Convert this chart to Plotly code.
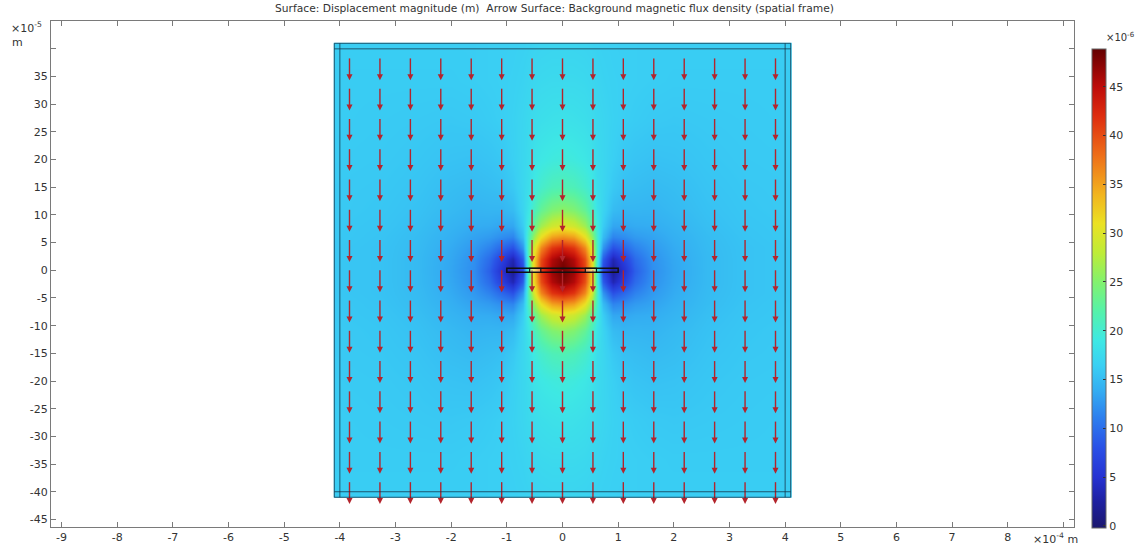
import numpy as np
import plotly.graph_objects as go

# ---------------- data ----------------
# Displacement magnitude field, one quadrant (x >= 0, y >= 0); mirrored to full domain.
# x in 1e-4 m, y in 1e-5 m, values in 1e-6 m
x_nodes = [0, 0.2, 0.4, 0.52, 0.62, 0.72, 0.9, 1.1, 1.3, 1.6, 2.0, 2.6, 3.3, 4.08, 4.1]
y_nodes = [0, 2, 4, 6, 8, 11, 15, 20, 27, 34, 40.8, 41]
disp_quarter = [
    [48.5, 46.5, 41.0, 32.0, 20.0, 7.0, 2.0, 5.0, 9.0, 12.0, 13.5, 14.8, 15.5, 15.8, 15.8],
    [47.5, 45.5, 40.0, 31.5, 20.5, 9.0, 3.5, 6.5, 9.8, 12.2, 13.6, 14.8, 15.5, 15.8, 15.8],
    [43.0, 41.5, 36.5, 29.5, 21.0, 12.5, 8.0, 9.5, 11.3, 12.7, 13.8, 14.9, 15.5, 15.8, 15.8],
    [36.0, 35.0, 31.0, 26.0, 20.5, 15.0, 11.5, 12.0, 12.8, 13.3, 14.1, 15.0, 15.6, 15.9, 15.9],
    [30.0, 29.0, 26.5, 23.0, 19.5, 16.3, 13.5, 13.5, 13.8, 13.9, 14.4, 15.2, 15.7, 15.9, 15.9],
    [25.5, 24.8, 23.0, 20.8, 18.5, 17.0, 15.0, 14.5, 14.5, 14.4, 14.8, 15.4, 15.8, 16.0, 16.0],
    [21.5, 21.2, 20.2, 19.2, 17.9, 17.2, 16.0, 15.3, 15.1, 14.9, 15.1, 15.6, 15.9, 16.0, 16.0],
    [19.5, 19.3, 18.9, 18.4, 17.6, 17.2, 16.5, 15.9, 15.6, 15.4, 15.5, 15.8, 16.0, 16.1, 16.1],
    [18.3, 18.2, 18.0, 17.7, 17.4, 17.1, 16.7, 16.4, 16.2, 16.0, 15.9, 16.0, 16.1, 16.2, 16.2],
    [17.5, 17.5, 17.4, 17.2, 17.0, 16.8, 16.6, 16.5, 16.4, 16.3, 16.2, 16.2, 16.2, 16.2, 16.2],
    [17.0, 17.0, 16.9, 16.8, 16.7, 16.6, 16.5, 16.4, 16.4, 16.3, 16.3, 16.3, 16.3, 16.3, 16.3],
    [17.0, 17.0, 16.9, 16.8, 16.7, 16.6, 16.5, 16.4, 16.4, 16.3, 16.3, 16.3, 16.3, 16.3, 16.3],
]

# Arrow surface sample points (x in 1e-4 m, y in 1e-5 m) and arrow length (1e-5 m)
arrow_x = [-3.827, -3.280, -2.733, -2.187, -1.640, -1.093, -0.547, 0.0,
           0.547, 1.093, 1.640, 2.187, 2.733, 3.280, 3.827]
arrow_y = [38.27, 32.80, 27.33, 21.87, 16.40, 10.93, 5.47, 0.0,
           -5.47, -10.93, -16.40, -21.87, -27.33, -32.80, -38.27]
arrow_len = 3.95

# Geometry
outer_x, inner_x = 4.1, 4.0      # 1e-4 m
outer_y, inner_y = 41.0, 40.0    # 1e-5 m
plate_x = [-1.0, 1.0]
plate_y = [-0.35, 0.35]
electrode_x = [[-0.59, -0.39], [0.41, 0.61]]

# Ticks
x_ticks = list(range(-9, 9))
x_unlabeled = [9]
y_ticks = list(range(-45, 40, 5))
y_unlabeled = [40]
cbar_ticks = list(range(0, 50, 5))
z_min, z_max = -0.2, 48.9

# Rainbow colormap (value in 1e-6 m, colour)
cmap_vals = [0, 2.5, 5, 8, 11, 14, 16.5, 19, 22, 25, 28, 31, 34, 38, 42, 45, 48.9]
cmap_cols = ["rgb(28,24,110)", "rgb(30,32,160)", "rgb(38,50,210)", "rgb(42,80,230)",
             "rgb(45,125,238)", "rgb(52,175,242)", "rgb(58,208,243)", "rgb(62,232,228)",
             "rgb(85,242,170)", "rgb(130,242,110)", "rgb(190,236,55)", "rgb(235,225,35)",
             "rgb(242,180,30)", "rgb(238,110,25)", "rgb(222,45,15)", "rgb(190,12,10)",
             "rgb(100,0,0)"]

# ---------------- build ----------------
xq = np.array(x_nodes, dtype=float)
yq = np.array(y_nodes, dtype=float)
zq = np.array(disp_quarter, dtype=float)
X = np.concatenate([-xq[:0:-1], xq])
Y = np.concatenate([-yq[:0:-1], yq])
zx = np.hstack([zq[:, :0:-1], zq])
Z = np.vstack([zx[:0:-1, :], zx])

colorscale = [[(v - z_min) / (z_max - z_min), c] for v, c in zip(cmap_vals, cmap_cols)]
colorscale[0][0] = 0.0
colorscale[-1][0] = 1.0

# plot-area pixel geometry
W, H = 1142, 556
L_, R_, T_, B_ = 51, 68, 21, 24.3
pw, ph = W - L_ - R_, H - T_ - B_
y_range = [-46.37, 45.03]


def px2paper_x(px):
    return (px - L_) / pw


def px2paper_y(py):
    return (H - B_ - py) / ph


fig = go.Figure()
fig.add_trace(go.Heatmap(
    x=X, y=Y, z=Z, zsmooth="best", colorscale=colorscale, zmin=z_min, zmax=z_max,
    hoverinfo="skip",
    colorbar=dict(
        thickness=14, thicknessmode="pixels",
        len=479, lenmode="pixels",
        x=px2paper_x(1092), xanchor="left", xpad=0,
        y=px2paper_y(49), yanchor="top", ypad=0,
        tickvals=cbar_ticks, ticktext=[str(t) for t in cbar_ticks],
        ticks="inside", ticklen=3, tickcolor="#333",
        tickfont=dict(family="DejaVu Sans", size=11, color="#333"),
        outlinewidth=1, outlinecolor="#666",
    ),
))

# arrows
sx, sy, hx, hy = [], [], [], []
head_px = 6
head_data = head_px / (ph / (y_range[1] - y_range[0]))
for ay in arrow_y:
    for ax in arrow_x:
        tip = ay - arrow_len
        sx += [ax, ax, None]
        sy += [ay, tip + head_data * 0.8, None]
        hx.append(ax)
        hy.append(tip)
arrow_col = "#b3242c"
fig.add_trace(go.Scatter(x=sx, y=sy, mode="lines", line=dict(color=arrow_col, width=1.4),
                         hoverinfo="skip", showlegend=False))
fig.add_trace(go.Scatter(x=hx, y=hy, mode="markers",
                         marker=dict(symbol="arrow-down", size=head_px, color=arrow_col,
                                     line=dict(width=0)),
                         hoverinfo="skip", showlegend=False))

# domain boundaries
bcol = "rgba(20,50,70,0.75)"
shapes = [
    dict(type="rect", x0=-outer_x, x1=outer_x, y0=-outer_y, y1=outer_y, line=dict(color=bcol, width=1)),
    dict(type="line", x0=-inner_x, x1=-inner_x, y0=-outer_y, y1=outer_y, line=dict(color=bcol, width=1)),
    dict(type="line", x0=inner_x, x1=inner_x, y0=-outer_y, y1=outer_y, line=dict(color=bcol, width=1)),
    dict(type="line", x0=-outer_x, x1=outer_x, y0=inner_y, y1=inner_y, line=dict(color=bcol, width=1)),
    dict(type="line", x0=-outer_x, x1=outer_x, y0=-inner_y, y1=-inner_y, line=dict(color=bcol, width=1)),
    dict(type="rect", x0=plate_x[0], x1=plate_x[1], y0=plate_y[0], y1=plate_y[1],
         line=dict(color="#111", width=1.5)),
]
for ex in electrode_x:
    shapes.append(dict(type="rect", x0=ex[0], x1=ex[1], y0=plate_y[0], y1=plate_y[1],
                       line=dict(color="#111", width=1.2), fillcolor="rgba(255,255,255,0.35)"))

txt = dict(family="DejaVu Sans", size=11, color="#333")
annotations = [
    dict(text="Surface: Displacement magnitude (m)  Arrow Surface: Background magnetic flux density (spatial frame)",
         x=px2paper_x(554.5), y=px2paper_y(8), xref="paper", yref="paper", showarrow=False,
         xanchor="center", yanchor="middle", font=dict(family="DejaVu Sans", size=10.7, color="#333")),
    dict(text="×10<sup>-5</sup>", x=px2paper_x(9), y=px2paper_y(28), xref="paper", yref="paper",
         showarrow=False, xanchor="left", yanchor="middle", font=txt),
    dict(text="m", x=px2paper_x(10), y=px2paper_y(43), xref="paper", yref="paper",
         showarrow=False, xanchor="left", yanchor="middle", font=txt),
    dict(text="×10<sup>-4</sup> m", x=px2paper_x(1031), y=px2paper_y(543), xref="paper", yref="paper",
         showarrow=False, xanchor="left", yanchor="middle", font=txt),
    dict(text="×10<sup>-6</sup>", x=px2paper_x(1104), y=px2paper_y(37), xref="paper", yref="paper",
         showarrow=False, xanchor="left", yanchor="middle", font=dict(family="DejaVu Sans", size=10, color="#333")),
]

axcol = "#7a7a7a"
common_axis = dict(ticks="inside", ticklen=5, tickcolor=axcol, showline=True, linecolor=axcol,
                   linewidth=1, mirror="ticks", showgrid=False, zeroline=False, tickfont=txt)
fig.update_layout(
    width=W, height=H, autosize=False,
    margin=dict(l=L_, r=R_, t=T_, b=B_, pad=0),
    paper_bgcolor="white", plot_bgcolor="white",
    showlegend=False,
    shapes=shapes, annotations=annotations,
    xaxis=dict(range=[-9.19, 9.19], tickvals=x_ticks, ticktext=[str(t) for t in x_ticks],
               minor=dict(tickvals=x_unlabeled, ticks="inside", ticklen=5, tickcolor=axcol),
               **common_axis),
    yaxis=dict(range=y_range, tickvals=y_ticks, ticktext=[str(t) for t in y_ticks],
               minor=dict(tickvals=y_unlabeled, ticks="inside", ticklen=5, tickcolor=axcol),
               **common_axis),
)

fig.write_html("out.html", config={"displayModeBar": False},
               post_script="document.body.style.margin='0';document.body.style.overflow='hidden';")
